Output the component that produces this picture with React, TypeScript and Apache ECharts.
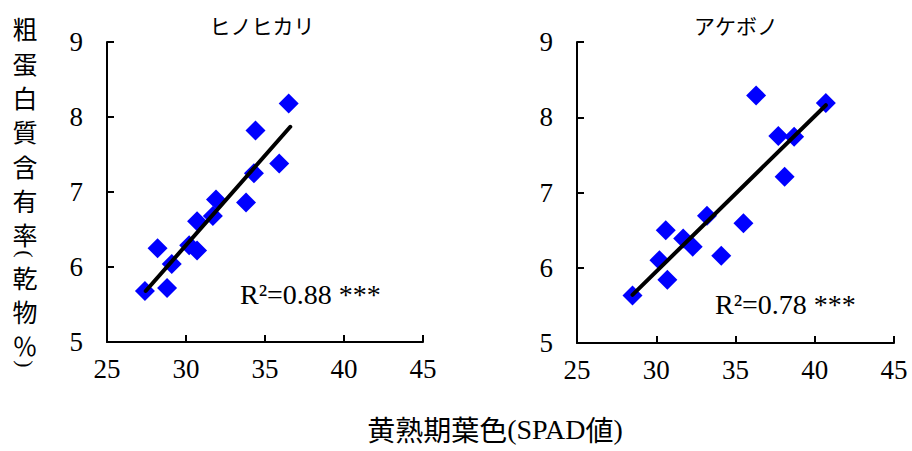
import React, { useEffect, useRef } from "react";
import * as echarts from "echarts";

// ヒノヒカリ
const hinoX = [27.4, 28.2, 28.8, 29.1, 30.2, 30.7, 30.7, 31.7, 31.9, 33.8, 34.3, 34.4, 35.9, 36.5];
const hinoY = [5.68, 6.25, 5.72, 6.04, 6.29, 6.22, 6.61, 6.68, 6.9, 6.86, 7.25, 7.82, 7.38, 8.18];
const hinoFitX = [27.45, 36.6];
const hinoFitY = [5.68, 7.87];

// アケボノ
const akeX = [28.5, 30.2, 30.6, 30.7, 31.7, 32.3, 33.2, 34.1, 35.5, 36.3, 37.7, 38.1, 38.7, 40.7];
const akeY = [5.63, 6.1, 6.5, 5.84, 6.39, 6.28, 6.69, 6.16, 6.59, 8.29, 7.75, 7.21, 7.74, 8.19];
const akeFitX = [28.5, 40.7];
const akeFitY = [5.64, 8.16];

const panelTitles = ["ヒノヒカリ", "アケボノ"];
const r2Labels = ["R²=0.88 ***", "R²=0.78 ***"];
const yTitleChars = ["粗", "蛋", "白", "質", "含", "有", "率", "(", "乾", "物", "％", ")"];

const X_MIN = 25, X_MAX = 45, X_STEP = 5;
const Y_MIN = 5, Y_MAX = 9, Y_STEP = 1;

const SERIF = "Liberation Serif";
const CJK = "Noto Sans CJK JP";

const zip = (xs: number[], ys: number[]) => xs.map((x, i) => [x, ys[i]]);

export default function App() {
  const ref = useRef<HTMLDivElement>(null);
  useEffect(() => {
    if (!ref.current) return;
    const chart = echarts.init(ref.current, undefined, { renderer: "svg" });
    const grids = [
      { left: 107, top: 42, width: 316, height: 300 },
      { left: 577, top: 42, width: 317, height: 301 },
    ];
    const axisLine = { show: true, onZero: false, lineStyle: { color: "#000", width: 2 } };
    const axisTick = { show: true, inside: true, length: 7, lineStyle: { color: "#000", width: 2 } };
    const xAxes = grids.map((_, i) => ({
      gridIndex: i,
      type: "value",
      min: X_MIN,
      max: X_MAX,
      interval: X_STEP,
      axisLine,
      axisTick,
      splitLine: { show: false },
      axisLabel: { color: "#000", fontFamily: SERIF, fontSize: 27, margin: 13 },
    }));
    const yAxes = grids.map((_, i) => ({
      gridIndex: i,
      type: "value",
      min: Y_MIN,
      max: Y_MAX,
      interval: Y_STEP,
      axisLine,
      axisTick,
      splitLine: { show: false },
      axisLabel: { color: "#000", fontFamily: SERIF, fontSize: 27, margin: 24 },
    }));
    const scatterStyle = {
      type: "scatter",
      symbol: "diamond",
      symbolSize: 20,
      itemStyle: { color: "#0000FF", opacity: 1 },
      z: 2,
    };
    const lineStyle = {
      type: "line",
      showSymbol: false,
      symbol: "none",
      lineStyle: { color: "#000", width: 4, cap: "round" },
      z: 3,
    };
    const yCenters = [28, 63, 97, 131, 166, 200, 234, 254, 277, 311, 345, 364];
    const isParen = (c: string) => c === "(" || c === ")";
    const graphic: any[] = [
      { type: "text", x: 262, y: 25, style: { text: panelTitles[0], fontFamily: CJK, fontSize: 21, fill: "#000", align: "center", verticalAlign: "middle" } },
      { type: "text", x: 736, y: 25, style: { text: panelTitles[1], fontFamily: CJK, fontSize: 21, fill: "#000", align: "center", verticalAlign: "middle" } },
      { type: "text", x: 240, y: 294, style: { text: r2Labels[0], fontFamily: SERIF, fontSize: 28, fill: "#000", align: "left", verticalAlign: "middle" } },
      { type: "text", x: 715, y: 304, style: { text: r2Labels[1], fontFamily: SERIF, fontSize: 28, fill: "#000", align: "left", verticalAlign: "middle" } },
      {
        type: "text", x: 495, y: 429,
        style: {
          text: "{c|黄熟期葉色}{l|(SPAD}{c|値}{l|)}",
          fill: "#000", align: "center", verticalAlign: "middle",
          rich: {
            c: { fontFamily: CJK, fontSize: 28, fill: "#000" },
            l: { fontFamily: SERIF, fontSize: 28, fill: "#000" },
          },
        },
      },
      ...yTitleChars.map((c, i) => ({
        type: "text",
        x: 25,
        y: yCenters[i],
        rotation: isParen(c) ? -Math.PI / 2 : 0,
        style: {
          text: c,
          fontFamily: isParen(c) ? SERIF : CJK,
          fontSize: isParen(c) ? 22 : 25,
          lineHeight: isParen(c) ? 22 : 25,
          fill: "#000",
          align: "center",
          verticalAlign: "middle",
        },
      })),
    ];
    chart.setOption({
      animation: false,
      backgroundColor: "#fff",
      grid: grids,
      xAxis: xAxes,
      yAxis: yAxes,
      series: [
        { ...scatterStyle, xAxisIndex: 0, yAxisIndex: 0, data: zip(hinoX, hinoY) },
        { ...lineStyle, xAxisIndex: 0, yAxisIndex: 0, data: zip(hinoFitX, hinoFitY) },
        { ...scatterStyle, xAxisIndex: 1, yAxisIndex: 1, data: zip(akeX, akeY) },
        { ...lineStyle, xAxisIndex: 1, yAxisIndex: 1, data: zip(akeFitX, akeFitY) },
      ],
      graphic,
    } as any);
    return () => chart.dispose();
  }, []);
  return (
    <div
      ref={ref}
      style={{ position: "fixed", left: 0, top: 0, width: 912, height: 451, background: "#fff" }}
    />
  );
}
